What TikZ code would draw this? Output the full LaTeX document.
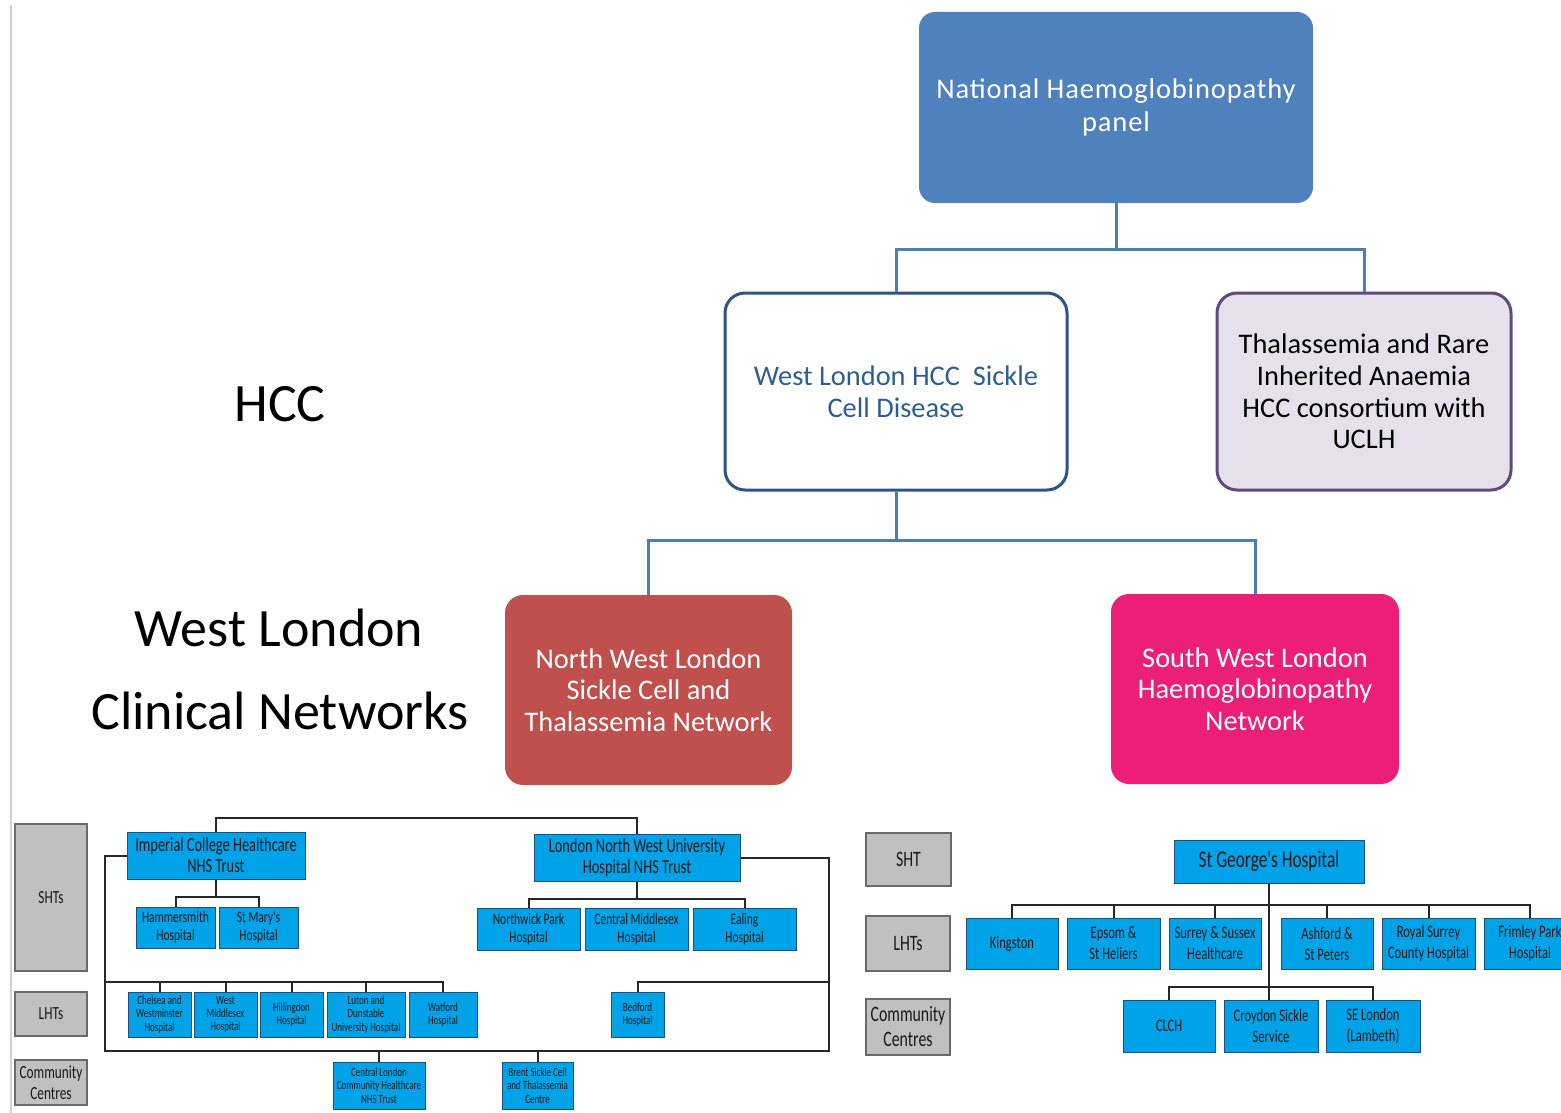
\documentclass[tikz,border=0pt]{standalone}
\usepackage{fontspec}
\setmainfont{Carlito}
\newfontfamily\nfont{Carlito}[FakeStretch=0.72]
\newfontfamily\spacedfont{Carlito}[LetterSpace=3]
\definecolor{topblue}{HTML}{4F81BD}
\definecolor{conblue}{HTML}{4A7EBB}
\definecolor{hccblue}{HTML}{2B5487}
\definecolor{hcctext}{HTML}{2E5C93}
\definecolor{lav}{HTML}{E5E0EC}
\definecolor{purp}{HTML}{5E4A7C}
\definecolor{nwred}{HTML}{C0504D}
\definecolor{swpink}{HTML}{EB1F77}
\definecolor{cyanb}{HTML}{00A3E8}
\definecolor{cyanedge}{HTML}{1D4F7A}
\definecolor{grayb}{HTML}{C0C0C0}
\definecolor{grayedge}{HTML}{6A6A6A}
\definecolor{darktext}{HTML}{1A1A1A}
\tikzset{
  bigbox/.style={rounded corners=16pt, inner sep=0pt, align=center},
  bigfont/.style={font=\fontsize{28.4}{31.6}\selectfont},
  bluecon/.style={draw=conblue, line width=3pt},
  blackcon/.style={draw=black!85, line width=2pt},
  cbox/.style={fill=cyanb, draw=cyanedge, line width=1pt, inner sep=0pt, align=center, text=darktext},
  gbox/.style={fill=grayb, draw=grayedge, line width=2pt, inner sep=0pt, align=center, text=darktext},
  sz/.style 2 args={minimum width=#1pt, minimum height=#2pt},
  f12/.style={font=\nfont\fontsize{12.5}{13.3}\selectfont},
  f16/.style={font=\nfont\fontsize{16}{18}\selectfont},
  f20/.style={font=\nfont\fontsize{20}{21}\selectfont},
  f18/.style={font=\nfont\fontsize{17.5}{21}\selectfont},
  fg/.style={font=\nfont\fontsize{18.5}{20.5}\selectfont},
  fg2/.style={font=\nfont\fontsize{22}{25}\selectfont},
  lbl/.style={font=\fontsize{54}{60}\selectfont, inner sep=0pt},
}
\begin{document}
\begin{tikzpicture}[x=1pt,y=-1pt]
\useasboundingbox[fill=white] (0,0) rectangle (1561,1113);
\draw[black!18, line width=2pt] (11,5) -- (11,1113);

% top level
\node[bigbox, font=\spacedfont\fontsize{28.5}{33}\selectfont, fill=topblue, text=white, sz={394}{191}] (nhp) at (1116,107.5) {National Haemoglobinopathy\\panel};
\node[bigbox, bigfont, fill=white, draw=hccblue, line width=3pt, text=hcctext, rounded corners=20pt, sz={342}{197}] (wl) at (896,391.5) {West London HCC\ \ Sickle\\Cell Disease};
\node[bigbox, bigfont, fill=lav, draw=purp, line width=3pt, text=black, rounded corners=20pt, sz={294}{197}] (thal) at (1364,391.5) {Thalassemia and Rare\\Inherited Anaemia\\HCC consortium with\\UCLH};
\node[bigbox, bigfont, fill=nwred, text=white, rounded corners=18pt, sz={287}{190}] (nw) at (648.5,690) {North West London\\Sickle Cell and\\Thalassemia Network};
\node[bigbox, bigfont, fill=swpink, text=white, rounded corners=18pt, sz={288}{190}] (sw) at (1255,689) {South West London\\Haemoglobinopathy\\Network};

\coordinate (j1) at (1116,249);
\coordinate (j2) at (896,540);
\draw[bluecon] (nhp.south) -- (j1) -| (wl.north);
\draw[bluecon] (j1) -| (thal.north);
\draw[bluecon] (wl.south) -- (j2) -| (nw.north);
\draw[bluecon] (j2) -| (sw.north);

% side labels
\node[lbl] (lhcc) at (280,404) {HCC};
\node[lbl] (lwl) at (279,628) {West London};
\node[lbl] (lcn) at (280,711) {Clinical Networks};

% ---------- bottom left ----------
\node[gbox, fg, sz={72}{147}] (shts) at (51,897.5) {SHTs};
\node[gbox, fg, sz={72}{44}] (lhts) at (51,1014) {LHTs};
\node[gbox, fg, sz={72}{45}] (cc1) at (51,1082.5) {Community\\Centres};

\node[cbox, f20, sz={178}{47}] (ich) at (216,855.5) {Imperial College Healthcare\\NHS Trust};
\node[cbox, f16, sz={79}{41}] (ham) at (175.5,927.5) {Hammersmith\\Hospital};
\node[cbox, f16, sz={79}{41}] (stm) at (258.5,927.5) {St Mary's\\Hospital};
\node[cbox, f20, sz={206}{47}] (lnw) at (637,857.5) {London North West University\\Hospital NHS Trust};
\node[cbox, f16, sz={103}{42}] (nwp) at (528.5,929) {Northwick Park\\Hospital};
\node[cbox, f16, sz={103}{42}] (cmx) at (636.5,929) {Central Middlesex\\Hospital};
\node[cbox, f16, sz={103}{42}] (eal) at (744.5,929) {Ealing\\Hospital};

\node[cbox, f12, sz={63}{45}] (chel) at (159.5,1014.5) {Chelsea and\\Westminster\\Hospital};
\node[cbox, f12, sz={63}{45}] (wmx) at (225.5,1014.5) {West\\Middlesex\\Hospital};
\node[cbox, f12, sz={63}{45}] (hil) at (291.5,1014.5) {Hillingdon\\Hospital};
\node[cbox, f12, sz={78}{45}] (lut) at (366,1014.5) {Luton and\\Dunstable\\University Hospital};
\node[cbox, f12, sz={68}{45}] (wat) at (443,1014.5) {Watford\\Hospital};
\node[cbox, f12, sz={53}{45}] (bed) at (637.5,1014.5) {Bedford\\Hospital};
\node[cbox, f12, sz={92}{47}] (clc) at (379,1085.5) {Central London\\Community Healthcare\\NHS Trust};
\node[cbox, f12, sz={71}{47}] (bre) at (537.5,1085.5) {Brent Sickle Cell\\and Thalassemia\\Centre};

\coordinate (bl) at (105,1051);
\coordinate (br) at (829,1051);
\coordinate (lh) at (105,982);
\coordinate (rh) at (829,982);
\draw[blackcon] (ich.north) -- (ich.north |- 0,818) -| (lnw.north);
\draw[blackcon] (ich.west) -| (bl) -- (br) |- (lnw.east);
\draw[blackcon] (ich.south) -- (ich.south |- 0,897);
\draw[blackcon] (ham.north) |- (stm.north |- 0,897) -- (stm.north);
\draw[blackcon] (lnw.south) -- (lnw.south |- 0,899);
\draw[blackcon] (nwp.north) |- (eal.north |- 0,899) -- (eal.north);
\draw[blackcon] (lh) -| (wat.north);
\foreach \n in {chel,wmx,hil,lut} \draw[blackcon] (\n.north) -- (\n.north |- lh);
\draw[blackcon] (rh) -| (bed.north);
\draw[blackcon] (clc.north) -- (clc.north |- bl);
\draw[blackcon] (bre.north) -- (bre.north |- bl);

% ---------- bottom right ----------
\node[gbox, fg2, sz={85}{53}] (sht) at (908.5,859.5) {SHT};
\node[gbox, fg2, sz={84}{55}] (lht2) at (908,943.5) {LHTs};
\node[gbox, fg2, sz={84}{56}] (cc2) at (908,1027) {Community\\Centres};

\node[cbox, font=\nfont\fontsize{24}{26}\selectfont, sz={190}{43}] (sg) at (1269,861.5) {St George's Hospital};
\node[cbox, f18, sz={92}{51}] (kin) at (1012,943.5) {Kingston};
\node[cbox, f18, sz={93}{51}] (eps) at (1113.5,943.5) {Epsom \&\\St Heliers};
\node[cbox, f18, sz={92}{51}] (sus) at (1215,943.5) {Surrey \& Sussex\\Healthcare};
\node[cbox, f18, sz={92}{51}] (ash) at (1327,943.5) {Ashford \&\\St Peters};
\node[cbox, f18, sz={93}{51}] (roy) at (1428.5,943.5) {Royal Surrey\\County Hospital};
\node[cbox, f18, sz={92}{51}] (frim) at (1530,943.5) {Frimley Park\\Hospital};
\node[cbox, f18, sz={92}{52}] (clch) at (1169,1026) {CLCH};
\node[cbox, f18, sz={94}{52}] (cro) at (1271,1026) {Croydon Sickle\\Service};
\node[cbox, f18, sz={94}{52}] (sel) at (1373,1026) {SE London\\(Lambeth)};

\draw[blackcon] (sg.south) -- (sg.south |- cro.north);
\draw[blackcon] (kin.north) |- (frim.north |- 0,905) -- (frim.north);
\foreach \n in {eps,sus,ash,roy} \draw[blackcon] (\n.north) -- (\n.north |- 0,905);
\draw[blackcon] (clch.north) |- (sel.north |- 0,987) -- (sel.north);
\end{tikzpicture}
\end{document}
